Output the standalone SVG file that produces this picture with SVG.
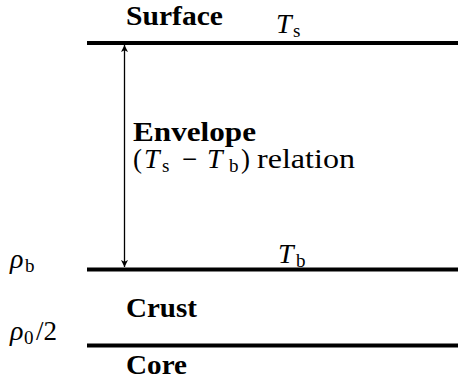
<svg xmlns="http://www.w3.org/2000/svg" width="458" height="382" viewBox="0 0 458 382" font-family="Liberation Serif, Times New Roman, DejaVu Serif, serif">
<defs>
<marker id="ah" viewBox="0 0 10 10" refX="10" refY="5" markerWidth="7" markerHeight="7" markerUnits="userSpaceOnUse" orient="auto-start-reverse">
<path d="M0,0 L10,5 L0,10 L2.5,5 Z" fill="#000"/>
</marker>
<style>
text{fill:#000;font-size:27px}
.b{font-weight:bold;font-size:28px}
.m{font-style:italic;font-size:28px}
.sub{font-size:19px;font-style:normal}
.layer{stroke:#000;stroke-width:4;fill:none}
</style>
</defs>
<rect width="458" height="382" fill="#fff"/>
<g id="connectors">
<line x1="124.5" y1="45" x2="124.5" y2="267" stroke="#000" stroke-width="1.3" marker-start="url(#ah)" marker-end="url(#ah)"/>
</g>
<g id="surface">
<line class="layer" x1="87" y1="43" x2="458" y2="43"/>
<text class="b" x="126" y="25" textLength="97" lengthAdjust="spacingAndGlyphs">Surface</text>
<text class="m" x="276" y="33">T</text>
<text class="sub" x="293" y="37">s</text>
</g>
<g id="envelope">
<text class="b" x="133" y="141" textLength="123" lengthAdjust="spacingAndGlyphs">Envelope</text>
<text x="133" y="168">(</text>
<text class="m" x="144" y="168">T</text>
<text class="sub" x="162" y="172">s</text>
<text x="182" y="168">−</text>
<text class="m" x="207" y="168">T</text>
<text class="sub" x="229" y="172">b</text>
<text x="241" y="168">)</text>
<text x="257" y="168" textLength="98" lengthAdjust="spacingAndGlyphs">relation</text>
</g>
<g id="bottom">
<line class="layer" x1="87" y1="269.5" x2="458" y2="269.5"/>
<text class="m" x="10" y="268">ρ</text>
<text class="sub" x="25" y="272">b</text>
<text class="m" x="278" y="263">T</text>
<text class="sub" x="296" y="267">b</text>
</g>
<g id="crust">
<text class="b" x="126" y="317" textLength="71" lengthAdjust="spacingAndGlyphs">Crust</text>
</g>
<g id="core">
<line class="layer" x1="87" y1="345.5" x2="458" y2="345.5"/>
<text class="m" x="10" y="340">ρ</text>
<text class="sub" x="24" y="344">0</text>
<text x="36" y="340">/2</text>
<text class="b" x="126" y="374" textLength="61" lengthAdjust="spacingAndGlyphs">Core</text>
</g>
</svg>
